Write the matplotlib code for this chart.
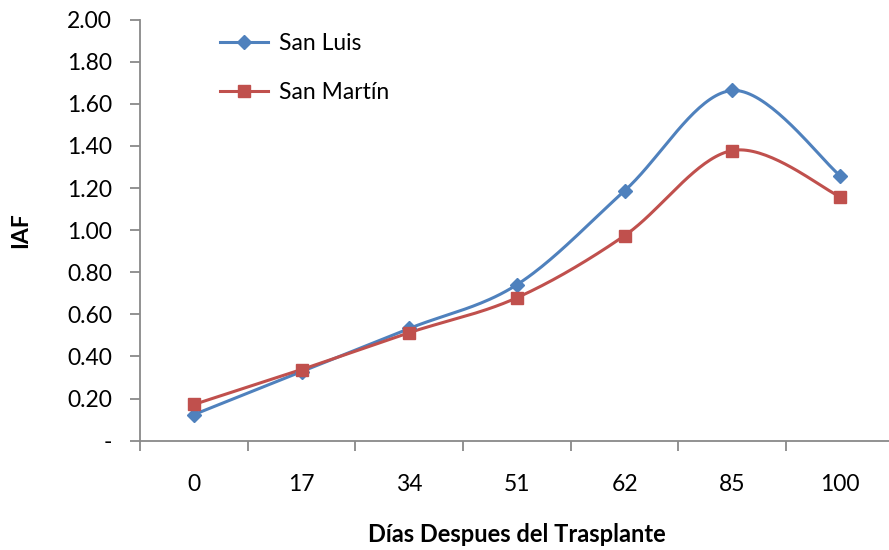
import numpy as np
import matplotlib
matplotlib.use("Agg")
import matplotlib.pyplot as plt

# Datos
dias = ["0", "17", "34", "51", "62", "85", "100"]
san_luis = [0.124, 0.328, 0.533, 0.741, 1.187, 1.663, 1.259]
san_martin = [0.172, 0.338, 0.513, 0.679, 0.974, 1.378, 1.159]
y_ticks = [0.0, 0.2, 0.4, 0.6, 0.8, 1.0, 1.2, 1.4, 1.6, 1.8, 2.0]

plt.rcParams['font.family'] = ['Lato', 'DejaVu Sans']

AZUL = "#4F81BD"
ROJO = "#C0504D"
GRIS = "#898989"


def suavizar(y, n=40):
    # curva tipo Excel: Bezier cúbica con tangentes de Catmull-Rom
    y = np.asarray(y, float)
    x = np.arange(len(y), dtype=float)
    xs, ys = [], []
    for i in range(len(y) - 1):
        p0 = np.array([x[max(i - 1, 0)], y[max(i - 1, 0)]])
        p1 = np.array([x[i], y[i]])
        p2 = np.array([x[i + 1], y[i + 1]])
        p3 = np.array([x[min(i + 2, len(y) - 1)], y[min(i + 2, len(y) - 1)]])
        c1 = p1 + (p2 - p0) / 6
        c2 = p2 - (p3 - p1) / 6
        t = np.linspace(0, 1, n)[:, None]
        pts = ((1 - t) ** 3) * p1 + 3 * ((1 - t) ** 2) * t * c1 + 3 * (1 - t) * t ** 2 * c2 + t ** 3 * p2
        xs.extend(pts[:, 0])
        ys.extend(pts[:, 1])
    return np.array(xs), np.array(ys)


fig = plt.figure(figsize=(8.89, 5.5), dpi=100)
ax = fig.add_axes([0.1575, 0.1987, 0.848, 0.7658])

idx = np.arange(len(dias))
for datos, color, marca, tam, nombre in [
    (san_luis, AZUL, "D", 7, "San Luis"),
    (san_martin, ROJO, "s", 8.5, "San Martín"),
]:
    sx, sy = suavizar(datos)
    ax.plot(sx, sy, color=color, lw=2.2, solid_capstyle="round", zorder=2)
    ax.plot(idx, datos, linestyle="none", marker=marca, ms=tam, color=color, zorder=3)
    ax.plot([], [], color=color, lw=2.2, marker=marca, ms=tam, label=nombre)

ax.set_xlim(-0.5, len(dias) - 0.5)
ax.set_ylim(0, 2.0)

ax.set_yticks(y_ticks)
ax.set_yticklabels(["-" if v == 0 else f"{v:.2f}" for v in y_ticks])
ax.set_xticks(idx)
ax.set_xticklabels(dias)
ax.set_xticks(np.arange(-0.5, len(dias), 1.0), minor=True)

for s in ["top", "right"]:
    ax.spines[s].set_visible(False)
for s in ["left", "bottom"]:
    ax.spines[s].set_color(GRIS)
    ax.spines[s].set_linewidth(1.3)

ax.tick_params(axis="y", direction="out", length=7, width=1.3, color=GRIS, labelsize=16.5, pad=13)
ax.tick_params(axis="x", which="major", length=0, labelsize=16.5, pad=24)
ax.tick_params(axis="x", which="minor", direction="out", length=7, width=1.3, color=GRIS)

ax.set_xlabel("Días Despues del Trasplante", fontsize=17, fontweight="bold", labelpad=20)
ax.set_ylabel("IAF", fontsize=16.5, fontweight="bold", labelpad=26)

ax.legend(loc="upper left", bbox_to_anchor=(0.088, 1.0), frameon=False, fontsize=16.5,
          handlelength=2.1, labelspacing=1.2, handletextpad=0.45, borderaxespad=0.2)

fig.savefig("out.png", dpi=100)
